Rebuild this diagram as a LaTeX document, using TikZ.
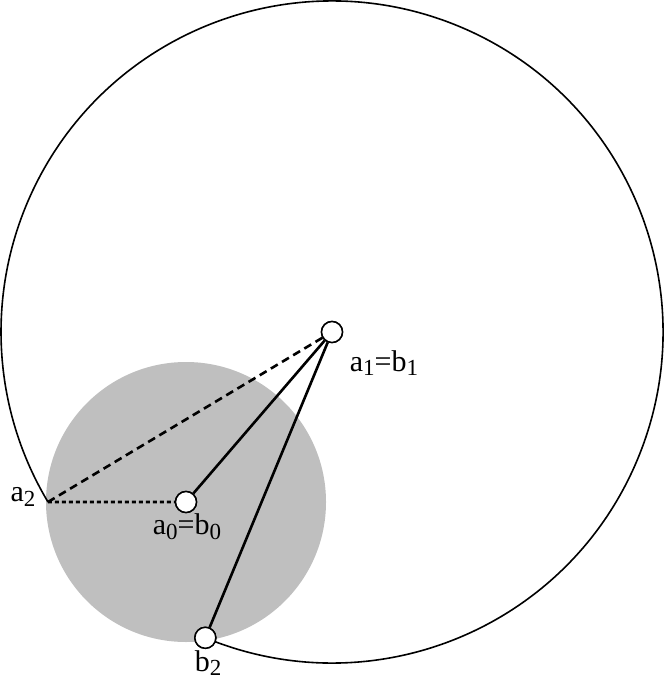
\documentclass[tikz,border=0pt]{standalone}
\usepackage{fontspec}
\usetikzlibrary{calc}
\setmainfont{Liberation Serif}
\newcommand{\lowsub}[1]{\raisebox{-0.35ex}{\fontsize{23}{23}\selectfont #1}}
\begin{document}
\begin{tikzpicture}[x=1pt,y=-1pt,
  marker/.style={circle,draw,fill=white,line width=1.5pt,minimum size=21pt,inner sep=0pt},
  lab/.style={font=\fontsize{30}{30}\selectfont,inner sep=0pt},
  solidline/.style={line width=2.6pt},
  longdash/.style={line width=2.6pt,dash pattern=on 8pt off 5pt},
  shortdash/.style={line width=2.6pt,dash pattern=on 4pt off 3pt}]
\useasboundingbox (0,0) rectangle (665,692);
\coordinate (c) at (332,332);
\fill[gray!50] (186,502) circle[radius=140];
\draw[line width=1.6pt] (c) ++(112.5:331) arc[start angle=112.5,end angle=-210.9,radius=331];
\coordinate (a2) at ($(c)+(149.1:331)$);
\node[marker] (a1) at (332,332) {};
\node[marker] (a0) at (186,502) {};
\node[marker] (b2) at ($(c)+(112.5:331)$) {};
\draw[solidline] (a1) -- (a0);
\draw[solidline] (a1) -- (b2);
\draw[longdash] (a1) -- (a2);
\draw[shortdash] (a2) -- (a0);
\node[marker] at (a1) {};
\node[marker] at (a0) {};
\node[marker] at (b2) {};
\node[lab] (la1) at (384,363) {a\lowsub{1}=b\lowsub{1}};
\node[lab] (la0) at (187,527) {a\lowsub{0}=b\lowsub{0}};
\node[lab] (la2) at (23,497) {a\lowsub{2}};
\node[lab] (lb2) at (208,663) {b\lowsub{2}};
\end{tikzpicture}
\end{document}
